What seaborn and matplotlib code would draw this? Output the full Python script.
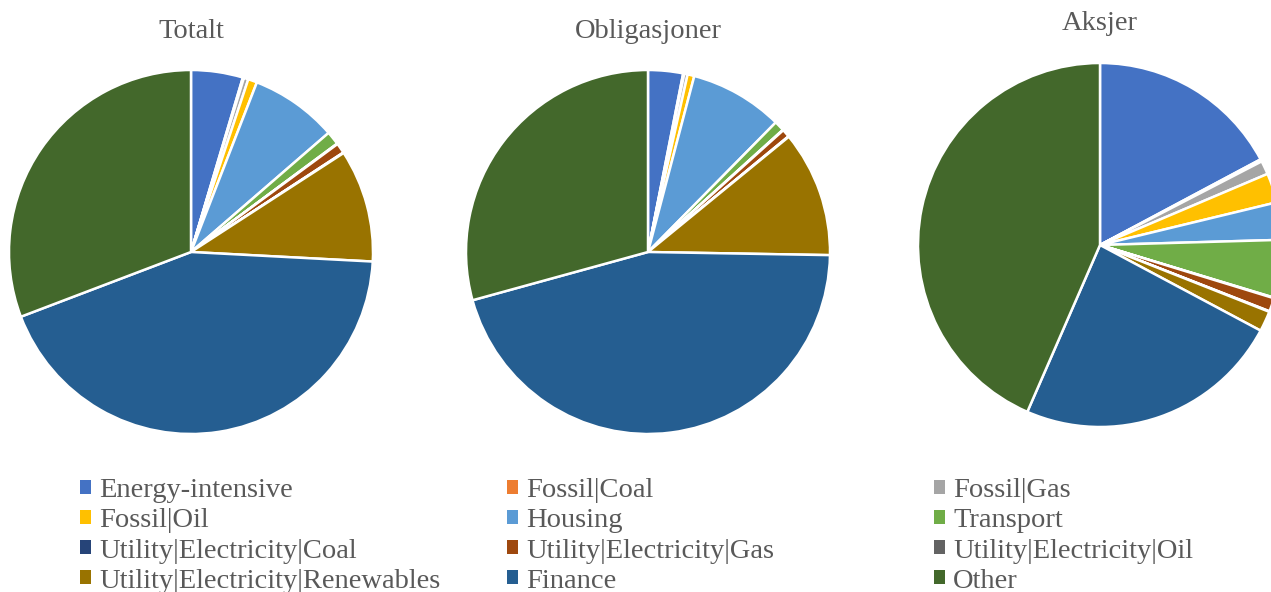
import matplotlib
matplotlib.use("Agg")
import matplotlib.pyplot as plt
from matplotlib.patches import Patch
import seaborn as sns

sns.set_theme(style="white")
plt.rcParams["font.family"] = ["Liberation Serif", "DejaVu Serif"]

categories = [
    "Energy-intensive", "Fossil|Coal", "Fossil|Gas", "Fossil|Oil",
    "Housing", "Transport", "Utility|Electricity|Coal", "Utility|Electricity|Gas",
    "Utility|Electricity|Oil", "Utility|Electricity|Renewables", "Finance", "Other",
]
colors = [
    "#4472C4", "#ED7D31", "#A5A5A5", "#FFC000",
    "#5B9BD5", "#70AD47", "#264478", "#9E480E",
    "#636363", "#997300", "#255E91", "#43682B",
]

totalt = [4.6, 0.1, 0.4, 0.8, 7.75, 1.2, 0.05, 0.9, 0.05, 10.0, 43.4, 30.8]
obligasjoner = [3.1, 0.1, 0.3, 0.6, 8.3, 0.9, 0.05, 0.7, 0.05, 11.2, 45.5, 29.3]
aksjer = [17.1, 0.2, 1.2, 2.6, 3.3, 5.1, 0.05, 1.2, 0.05, 1.8, 23.6, 43.2]

titles = ["Totalt", "Obligasjoner", "Aksjer"]
series = [totalt, obligasjoner, aksjer]

W, H = 1271, 592
fig = plt.figure(figsize=(W / 100, H / 100), dpi=100)
fig.patch.set_facecolor("white")
text_color = "#595959"

# pie centres and radius in pixels (from top-left)
centres = [(191, 252), (648, 252), (1100, 245)]
radius = 182
title_y = [32, 32, 24]

for vals, title, (cx, cy), ty in zip(series, titles, centres, title_y):
    ax = fig.add_axes([(cx - radius) / W, (H - cy - radius) / H,
                       2 * radius / W, 2 * radius / H])
    ax.pie(vals, colors=colors, startangle=90, counterclock=False,
           wedgeprops=dict(edgecolor="white", linewidth=1.8))
    ax.set_xlim(-1, 1)
    ax.set_ylim(-1, 1)
    ax.set_aspect("auto")
    ax.axis("off")
    fig.text(cx / W, 1 - ty / H, title, ha="center", va="center",
             fontsize=20.5, color=text_color)

# legend laid out in three columns, filled row by row
col_x = [80, 507, 934]
handles = [Patch(facecolor=c, edgecolor="none") for c in colors]
for j, x in enumerate(col_x):
    idx = list(range(j, len(categories), 3))
    leg = fig.legend([handles[i] for i in idx], [categories[i] for i in idx],
                     loc="center left", bbox_to_anchor=(x / W, 1 - 536 / H),
                     frameon=False, fontsize=20.5, labelcolor=text_color,
                     handlelength=0.38, handleheight=0.38, handletextpad=0.3,
                     labelspacing=0.18, borderpad=0, borderaxespad=0)

fig.savefig("out.png", dpi=100, facecolor="white")
